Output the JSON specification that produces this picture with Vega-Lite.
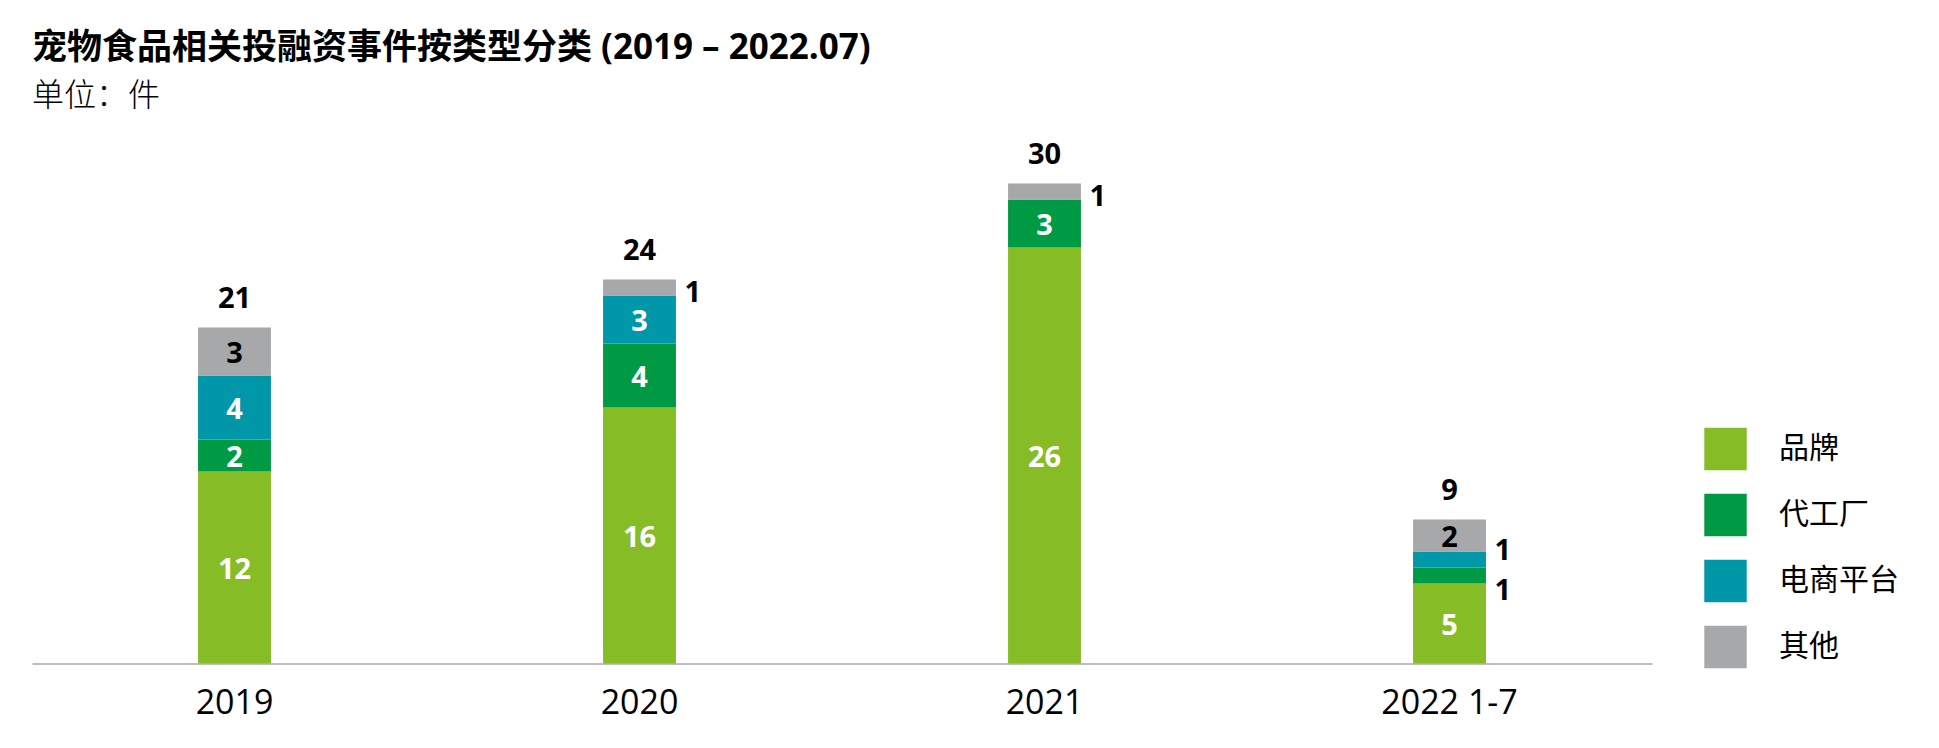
{
  "$schema": "https://vega.github.io/schema/vega-lite/v6.json",
  "width": 1620,
  "height": 480,
  "autosize": "none",
  "padding": {"left": 32, "top": 183.5, "right": 287, "bottom": 84.5},
  "background": "#ffffff",
  "config": {
    "view": {"stroke": null},
    "font": "Open Sans, Noto Sans CJK SC",
    "text": {"font": "Open Sans, Noto Sans CJK SC"}
  },
  "title": {
    "text": "宠物食品相关投融资事件按类型分类 (2019 – 2022.07)",
    "subtitle": "单位：件",
    "anchor": "start",
    "frame": "group",
    "font": "Open Sans, Noto Sans CJK SC",
    "fontSize": 35,
    "fontWeight": "bold",
    "color": "#000000",
    "subtitleFont": "Noto Sans CJK SC",
    "subtitleFontSize": 32,
    "subtitleFontWeight": 300,
    "subtitleColor": "#000000",
    "subtitlePadding": 15,
    "offset": 29
  },
  "data": {
    "values": [
      {"period": "2019", "cat": "品牌", "value": 12},
      {"period": "2019", "cat": "代工厂", "value": 2},
      {"period": "2019", "cat": "电商平台", "value": 4},
      {"period": "2019", "cat": "其他", "value": 3},
      {"period": "2020", "cat": "品牌", "value": 16},
      {"period": "2020", "cat": "代工厂", "value": 4},
      {"period": "2020", "cat": "电商平台", "value": 3},
      {"period": "2020", "cat": "其他", "value": 1},
      {"period": "2021", "cat": "品牌", "value": 26},
      {"period": "2021", "cat": "代工厂", "value": 3},
      {"period": "2021", "cat": "其他", "value": 1},
      {"period": "2022 1-7", "cat": "品牌", "value": 5},
      {"period": "2022 1-7", "cat": "代工厂", "value": 1},
      {"period": "2022 1-7", "cat": "电商平台", "value": 1},
      {"period": "2022 1-7", "cat": "其他", "value": 2}
    ]
  },
  "transform": [
    {"calculate": "indexof(['品牌', '代工厂', '电商平台', '其他'], datum.cat)", "as": "catIndex"},
    {"stack": "value", "groupby": ["period"], "sort": [{"field": "catIndex", "order": "ascending"}], "as": ["v0", "v1"]},
    {"calculate": "(datum.v0 + datum.v1) / 2", "as": "vMid"}
  ],
  "encoding": {
    "x": {
      "field": "period",
      "type": "nominal",
      "sort": ["2019", "2020", "2021", "2022 1-7"],
      "scale": {"paddingInner": 0.82, "paddingOuter": 0.41},
      "axis": {
        "title": null,
        "labelAngle": 0,
        "ticks": false,
        "grid": false,
        "domain": true,
        "domainColor": "#A7A8AA",
        "domainWidth": 1.5,
        "labelFont": "Open Sans",
        "labelFontSize": 34,
        "labelColor": "#000000",
        "labelPadding": 50,
        "labelBaseline": "alphabetic",
        "labelDx": -5
      }
    }
  },
  "layer": [
    {
      "mark": {"type": "bar"},
      "encoding": {
        "y": {
          "field": "v1",
          "type": "quantitative",
          "scale": {"domain": [0, 30], "nice": false, "zero": true},
          "axis": null
        },
        "y2": {"field": "v0"},
        "color": {
          "field": "cat",
          "type": "nominal",
          "scale": {
            "domain": ["品牌", "代工厂", "电商平台", "其他"],
            "range": ["#86BC25", "#009A44", "#0097A9", "#A7A8AA"]
          },
          "legend": {
            "title": null,
            "orient": "none",
            "legendX": 1672,
            "legendY": 244,
            "padding": 0,
            "symbolType": "square",
            "symbolSize": 1800,
            "symbolStrokeWidth": 0,
            "symbolOpacity": 1,
            "labelFont": "Noto Sans CJK SC",
            "labelFontSize": 30,
            "labelColor": "#000000",
            "labelOffset": 32,
            "rowPadding": 23
          }
        }
      }
    },
    {
      "transform": [{"filter": "datum.value >= 2"}],
      "mark": {"type": "text", "fontSize": 29, "fontWeight": "bold", "baseline": "middle", "align": "center", "dy": 2},
      "encoding": {
        "y": {"field": "vMid", "type": "quantitative"},
        "text": {"field": "value", "type": "quantitative"},
        "color": {"condition": {"test": "datum.cat === '其他'", "value": "#000000"}, "value": "#ffffff"}
      }
    },
    {
      "transform": [{"filter": "datum.value === 1 && datum.cat === '其他'"}],
      "mark": {"type": "text", "fontSize": 29, "fontWeight": "bold", "baseline": "middle", "align": "left", "dx": 45, "dy": 5, "color": "#000000"},
      "encoding": {
        "y": {"field": "vMid", "type": "quantitative"},
        "text": {"field": "value", "type": "quantitative"}
      }
    },
    {
      "transform": [{"filter": "datum.value === 1 && datum.cat === '电商平台'"}],
      "mark": {"type": "text", "fontSize": 29, "fontWeight": "bold", "baseline": "middle", "align": "left", "dx": 45, "dy": -9, "color": "#000000"},
      "encoding": {
        "y": {"field": "vMid", "type": "quantitative"},
        "text": {"field": "value", "type": "quantitative"}
      }
    },
    {
      "transform": [{"filter": "datum.value === 1 && datum.cat === '代工厂'"}],
      "mark": {"type": "text", "fontSize": 29, "fontWeight": "bold", "baseline": "middle", "align": "left", "dx": 45, "dy": 15, "color": "#000000"},
      "encoding": {
        "y": {"field": "vMid", "type": "quantitative"},
        "text": {"field": "value", "type": "quantitative"}
      }
    },
    {
      "transform": [{"aggregate": [{"op": "sum", "field": "value", "as": "total"}], "groupby": ["period"]}],
      "mark": {"type": "text", "fontSize": 29, "fontWeight": "bold", "baseline": "alphabetic", "align": "center", "dy": -20, "color": "#000000"},
      "encoding": {
        "y": {"field": "total", "type": "quantitative"},
        "text": {"field": "total", "type": "quantitative"}
      }
    }
  ]
}
